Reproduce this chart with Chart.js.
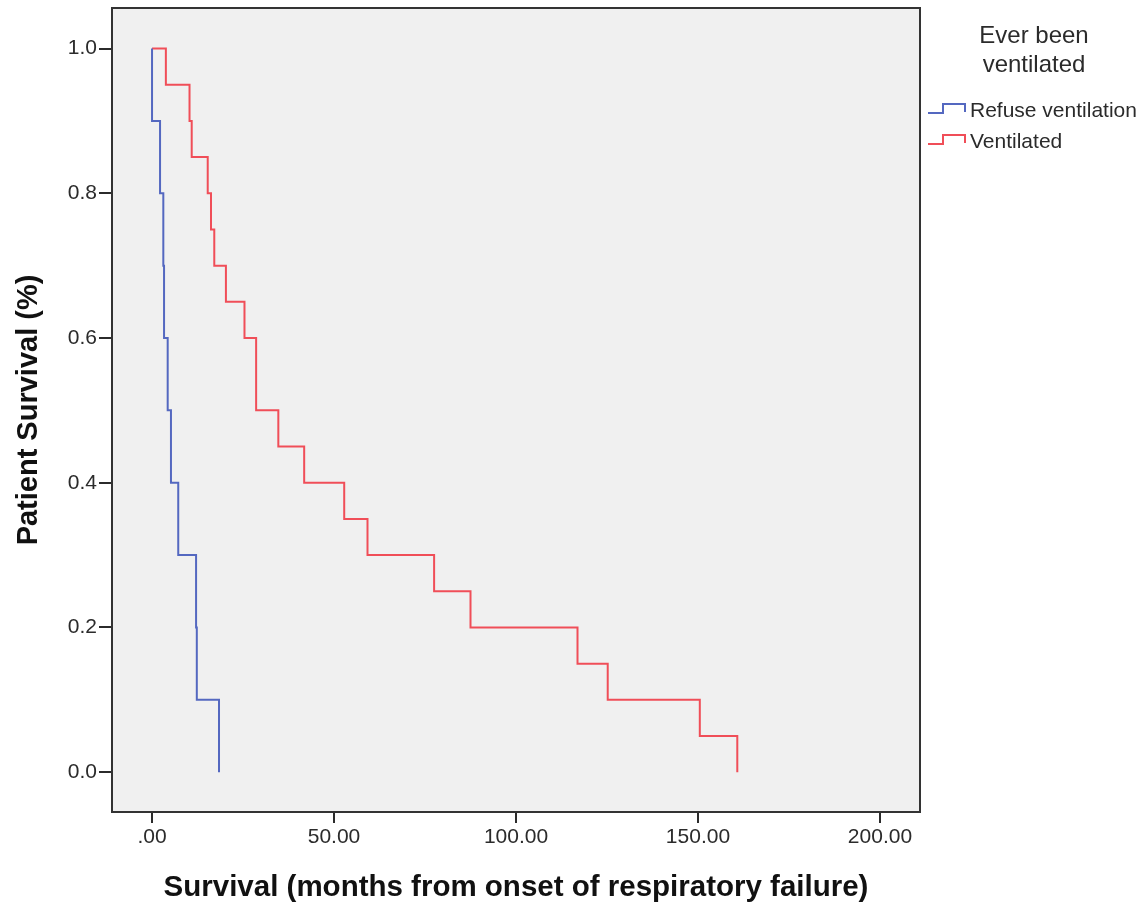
<!DOCTYPE html>
<html>
<head>
<meta charset="utf-8">
<script src="https://cdn.jsdelivr.net/npm/chart.js@4"></script>
<style>
  html, body { margin: 0; padding: 0; background: #fff; }
  canvas { display: block; }
</style>
</head>
<body>
<canvas id="km" width="1145" height="909"></canvas>
<script>
/* Kaplan-Meier: survival vs months from onset of respiratory failure */

// data (time of each step, survival after the step)
const refuseMonths   = [0, 0, 2.2, 3.1, 3.3, 4.3, 5.2, 7.2, 12.1, 12.3, 18.4];
const refuseSurvival = [1.0, 0.9, 0.8, 0.7, 0.6, 0.5, 0.4, 0.3, 0.2, 0.1, 0.0];

const ventMonths   = [0, 3.8, 10.3, 10.9, 15.3, 16.2, 17.1, 20.3, 25.4, 28.6,
                      34.7, 41.8, 52.8, 59.2, 77.5, 87.5, 116.9, 125.2, 150.5, 160.8];
const ventSurvival = [1.0, 0.95, 0.9, 0.85, 0.8, 0.75, 0.7, 0.65, 0.6, 0.5,
                      0.45, 0.4, 0.35, 0.3, 0.25, 0.2, 0.15, 0.1, 0.05, 0.0];

const xTicks = [0, 50, 100, 150, 200];
const yTicks = [0, 0.2, 0.4, 0.6, 0.8, 1.0];

const groupLabels = ['Refuse ventilation', 'Ventilated'];
const legendTitle = ['Ever been', 'ventilated'];

const FONT = "'Liberation Sans', Arial, sans-serif";
const INK = '#2b2b2b';

const toPoints = (xs, ys) => xs.map((x, i) => ({ x, y: ys[i] }));

/* plot frame + grey background ------------------------------ */
const framePlugin = {
  id: 'frame',
  beforeDraw(chart) {
    const { ctx, chartArea: a } = chart;
    ctx.save();
    ctx.fillStyle = '#f0f0f0';
    ctx.fillRect(a.left, a.top, a.right - a.left, a.bottom - a.top);
    ctx.restore();
  },
  afterDraw(chart) {
    const { ctx, chartArea: a } = chart;
    ctx.save();
    ctx.strokeStyle = '#333';
    ctx.lineWidth = 2;
    ctx.strokeRect(a.left, a.top, a.right - a.left, a.bottom - a.top);
    ctx.restore();
  }
};

/* SPSS-style legend on the right ---------------------------- */
const sideLegend = {
  id: 'sideLegend',
  afterDraw(chart) {
    const { ctx, chartArea: a } = chart;
    const x0 = a.right + 8;
    ctx.save();
    ctx.fillStyle = INK;
    ctx.textAlign = 'center';
    ctx.textBaseline = 'middle';
    ctx.font = `24px ${FONT}`;
    legendTitle.forEach((t, i) => ctx.fillText(t, a.right + 114, 36 + i * 29));

    ctx.font = `21px ${FONT}`;
    ctx.textAlign = 'left';
    chart.data.datasets.forEach((ds, i) => {
      const y = 113 + i * 31;
      ctx.strokeStyle = ds.borderColor;
      ctx.lineWidth = 2;
      ctx.beginPath();
      ctx.moveTo(x0, y);
      ctx.lineTo(x0 + 15, y);
      ctx.lineTo(x0 + 15, y - 9);
      ctx.lineTo(x0 + 37, y - 9);
      ctx.lineTo(x0 + 37, y - 1);
      ctx.stroke();
      ctx.fillText(ds.label, x0 + 42, y - 2);
    });
    ctx.restore();
  }
};

new Chart(document.getElementById('km'), {
  type: 'line',
  data: {
    datasets: [
      {
        label: groupLabels[0],
        data: toPoints(refuseMonths, refuseSurvival),
        borderColor: '#5468c0',
        borderWidth: 2,
        stepped: 'before',
        pointRadius: 0,
        fill: false
      },
      {
        label: groupLabels[1],
        data: toPoints(ventMonths, ventSurvival),
        borderColor: '#f04e58',
        borderWidth: 2,
        stepped: 'before',
        pointRadius: 0,
        fill: false
      }
    ]
  },
  options: {
    responsive: false,
    animation: false,
    layout: { padding: { top: 8, right: 225, left: 0, bottom: 0 } },
    plugins: {
      legend: { display: false },
      tooltip: { enabled: false }
    },
    scales: {
      x: {
        type: 'linear',
        min: -11,
        max: 211,
        afterBuildTicks: s => { s.ticks = xTicks.map(v => ({ value: v })); },
        afterFit: s => { s.height = 97; s.paddingLeft = 0; s.paddingRight = 0; },
        border: { display: false },
        grid: { drawOnChartArea: false, color: INK, lineWidth: 2, tickLength: 11 },
        ticks: {
          color: INK,
          padding: 2,
          font: { family: FONT, size: 21 },
          maxRotation: 0,
          callback: v => v.toFixed(2).replace(/^0\./, '.')
        },
        title: {
          display: true,
          text: 'Survival (months from onset of respiratory failure)',
          color: '#111',
          font: { family: FONT, size: 29.5, weight: 'bold' },
          padding: { top: 0, bottom: 3 }
        }
      },
      y: {
        min: -0.055,
        max: 1.056,
        afterBuildTicks: s => { s.ticks = yTicks.map(v => ({ value: v })); },
        afterFit: s => { s.width = 112; s.paddingTop = 0; s.paddingBottom = 0; },
        border: { display: false },
        grid: { drawOnChartArea: false, color: INK, lineWidth: 2, tickLength: 13 },
        ticks: {
          color: INK,
          padding: 2,
          font: { family: FONT, size: 21 },
          callback: v => v.toFixed(1)
        },
        title: {
          display: true,
          text: 'Patient Survival (%)',
          color: '#111',
          font: { family: FONT, size: 29, weight: 'bold' },
          padding: { top: 12, bottom: 0 }
        }
      }
    }
  },
  plugins: [framePlugin, sideLegend]
});
</script>
</body>
</html>
